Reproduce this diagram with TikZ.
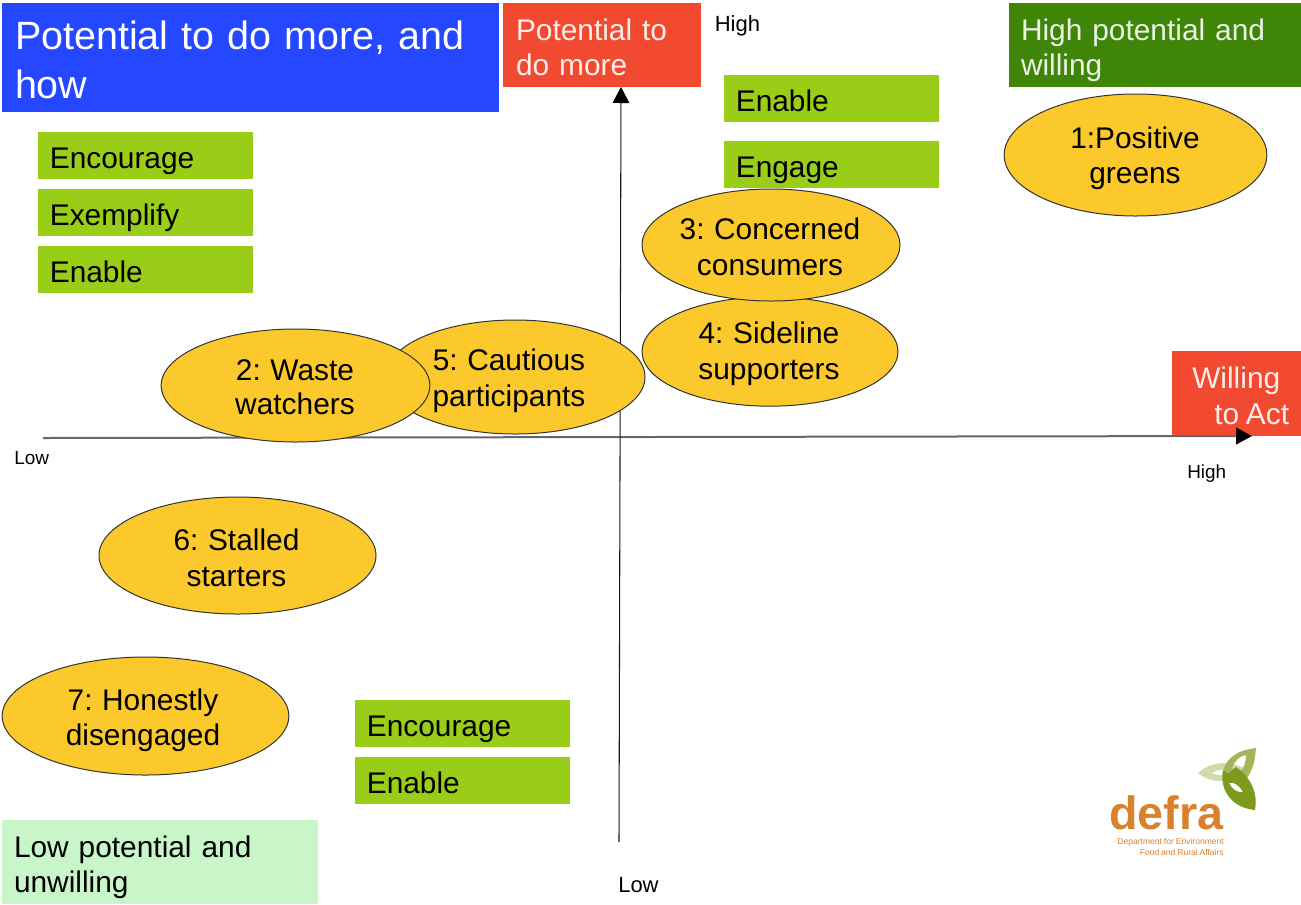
\documentclass[tikz,border=0pt]{standalone}
\usepackage{fontspec}
\setmainfont[WordSpace=0.82]{Liberation Sans}
\usetikzlibrary{arrows.meta,shapes.geometric}
\definecolor{actgreen}{HTML}{9ACD17}
\definecolor{ellfill}{HTML}{FBC92B}
\definecolor{redbox}{HTML}{F14A30}
\definecolor{bluebox}{HTML}{2447FF}
\definecolor{darkgreen}{HTML}{3E8508}
\definecolor{palegreen}{HTML}{C8F6C8}
\definecolor{deforange}{HTML}{D9822B}
\definecolor{leafdark}{HTML}{7E9A1E}
\definecolor{leafmid}{HTML}{A3B65A}
\definecolor{leaflight}{HTML}{CFDBA8}
\tikzset{
  px/.style={x=0.75pt,y=-0.75pt},
  actbox/.style={fill=actgreen,draw=none,minimum width=161.25pt,minimum height=35.5pt,inner sep=0pt,outer sep=0pt,text=black,font=\fontsize{22.4}{26}\selectfont,anchor=north west,align=left,text width=143.5pt,text height=20.5pt,text depth=2pt},
  blob/.style={fill=ellfill,draw=black!80,line width=0.75pt,ellipse,inner sep=0pt},
  blobtext/.style={inner sep=0pt,align=center,font=\fontsize{22.4}{27}\selectfont},
  headbox/.style={draw=none,inner sep=0pt,outer sep=0pt,anchor=north west,align=left,font=\fontsize{22.4}{26.5}\selectfont},
  axisline/.style={line width=1pt,-{Triangle[length=12pt,width=12.5pt,color=black]}},
  lowhigh/.style={inner sep=0pt,text=black,font=\fontsize{16.5}{20}\selectfont},
  sidelab/.style={inner sep=0pt,text=black,font=\fontsize{14.2}{18}\selectfont},
}
\begin{document}
\begin{tikzpicture}[px]
\useasboundingbox (0,0) rectangle (1301,904);
% header boxes
\fill[bluebox] (2,3) rectangle (499,112);
\node[headbox,text=white,font=\fontsize{29.6}{36.8}\selectfont,text width=350pt] (title) at (15,21) {Potential to do more, and\\how};
\fill[redbox] (503,3) rectangle (701,87);
\node[headbox,text=white!90!redbox,text width=140pt] (pot) at (516,19) {Potential to\\do more};
\fill[darkgreen] (1009,3) rectangle (1301,87);
\node[headbox,text=white!90!darkgreen,text width=210pt] (hpw) at (1021,19) {High potential and\\willing};
\fill[palegreen] (2,820) rectangle (318,904);
\node[headbox,text=black,text width=220pt] (lpu) at (14,836) {Low potential and\\unwilling};
\fill[redbox] (1172,351) rectangle (1301,436);
\node[inner sep=0pt,align=left,text=white!90!redbox,anchor=north west,font=\fontsize{22.4}{27}\selectfont] (wta) at (1192,367) {Willing\\\hspace*{16.5pt}to Act};
% action boxes
\foreach \nm/\tx/\xx/\yy in {a/Encourage/38/132,b/Exemplify/38/189,c/Enable/38/246,d/Enable/724/75,e/Engage/724/141,f/Encourage/355/700,g/Enable/355/757}{
  \node[actbox] (\nm) at (\xx,\yy) {\tx};
}
% axes
\coordinate (xs) at (43,438);
\coordinate (xe) at (1252,436);
\coordinate (ys) at (619,842);
\coordinate (ye) at (621,87);
\draw[axisline,draw=black!60,line width=1.5pt] (xs) -- (xe);
\draw[axisline,draw=black!90,line width=0.8pt] (ys) -- (ye);
% ellipses
\node[blob,minimum width=197pt,minimum height=91.5pt] (e1) at (1135.5,155) {};
\node[blobtext,font=\fontsize{22.4}{26.3}\selectfont] (t1) at (1135,158) {1:Positive\\greens};
\node[blob,minimum width=192pt,minimum height=82pt] (e4) at (770,351.5) {};
\node[blobtext] (t4) at (769,354) {4: Sideline\\supporters};
\node[blob,minimum width=193.5pt,minimum height=84pt] (e3) at (771,245) {};
\node[blobtext] (t3) at (770,247) {3: Concerned\\consumers};
\node[blob,minimum width=195pt,minimum height=85.5pt] (e5) at (515,377) {};
\node[blobtext] (t5) at (509,381) {5: Cautious\\participants};
\node[blob,minimum width=201.5pt,minimum height=84.75pt] (e2) at (295.5,385.5) {};
\node[blobtext,font=\fontsize{22.4}{25.8}\selectfont] (t2) at (295,387) {2: Waste\\watchers};
\node[blob,minimum width=207.75pt,minimum height=87.75pt] (e6) at (237.5,555.5) {};
\node[blobtext] (t6) at (236.5,558) {6: Stalled\\starters};
\node[blob,minimum width=215pt,minimum height=88.5pt] (e7) at (145.5,716) {};
\node[blobtext,font=\fontsize{22.4}{26.3}\selectfont] (t7) at (143,720) {7: Honestly\\disengaged};
% axis end labels
\node[lowhigh,anchor=west] (h1) at (714.5,25.5) {High};
\node[lowhigh,anchor=west] (l1) at (618,885) {Low};
\node[sidelab,anchor=west] (l2) at (14,458) {Low};
\node[sidelab,anchor=west] (h2) at (1187,474) {High};
% logo
\fill[leaflight,even odd rule] (1198,773) .. controls (1210,762) and (1228,760) .. (1244,768) .. controls (1236,782) and (1214,786) .. (1198,773)
  (1212,773) .. controls (1218,769) and (1224,769) .. (1230,771) .. controls (1224,776) and (1218,776) .. (1212,773);
\fill[leafmid,even odd rule] (1256,748) .. controls (1240,750) and (1226,756) .. (1223,772) .. controls (1230,777) and (1240,778) .. (1247,778) .. controls (1254,768) and (1255,758) .. (1256,748)
  (1232,768) .. controls (1235,760) and (1240,756) .. (1246,755) .. controls (1246,762) and (1244,768) .. (1240,772) .. controls (1237,771) and (1234,770) .. (1232,768);
\fill[leafdark,even odd rule] (1223,770) .. controls (1219,790) and (1232,808) .. (1255,810) .. controls (1258,795) and (1252,778) .. (1236,767) -- (1230,772) .. controls (1227,775) and (1226,772) .. (1223,770)
  (1229,783) .. controls (1234,782) and (1238,784) .. (1243,792) .. controls (1237,793) and (1232,789) .. (1229,783);
\node[inner sep=0pt,anchor=base west,text=deforange,font=\bfseries\fontsize{35}{38}\selectfont] (lg) at (1109,829) {defra};
\node[inner sep=0pt,anchor=north east,align=right,text=deforange,font=\fontsize{6.4}{8.25}\selectfont] (lgt) at (1224,838) {Department for Environment\\Food and Rural Affairs};
\end{tikzpicture}
\end{document}
